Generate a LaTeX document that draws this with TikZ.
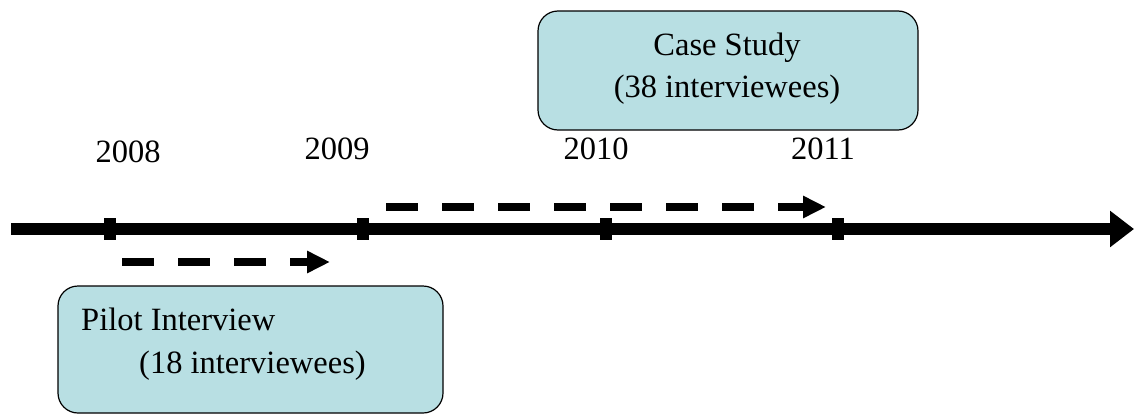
\documentclass[tikz,border=0pt]{standalone}
\usepackage{fontspec}
\setmainfont{Liberation Serif}
\usetikzlibrary{arrows.meta}
\definecolor{boxfill}{RGB}{184,223,227}
\begin{document}
\begin{tikzpicture}[x=1pt,y=-1pt,
  txt/.style={inner sep=0pt,anchor=base,font=\fontsize{32.5}{38}\selectfont},
  phasebox/.style={draw=black,line width=1.2pt,fill=boxfill,rounded corners=20pt,inner sep=0pt},
  tickmark/.style={fill=black,inner sep=0pt,minimum width=12pt,minimum height=22pt},
  axis/.style={line width=11.5pt,-{Triangle[length=24pt,width=35pt]}},
  period/.style={line width=8pt,dash pattern=on 32pt off 24pt,-{Triangle[length=23pt,width=21pt]}}]
\useasboundingbox (0,0) rectangle (1134,415);
% boxes
\node[phasebox,minimum width=380pt,minimum height=119pt] (casebox) at (728,70.5) {};
\node[phasebox,minimum width=385pt,minimum height=127pt] (pilotbox) at (250.5,349.5) {};
\node[txt] (case1) at (727,55) {Case Study};
\node[txt] (case2) at (727,97) {(38 interviewees)};
\node[txt,anchor=base west] (pilot1) at (81,330) {Pilot Interview};
\node[txt,anchor=base west] (pilot2) at (139,373) {(18 interviewees)};
% axis
\coordinate (axstart) at (11,229);
\coordinate (axend) at (1134,229);
\draw[axis] (axstart) -- (axend);
\node[tickmark] (t2008) at (110,229) {};
\node[tickmark] (t2009) at (363,229) {};
\node[tickmark] (t2010) at (606,229) {};
\node[tickmark] (t2011) at (838,229) {};
% years
\node[txt] (y2008) at (128,162) {2008};
\node[txt] (y2009) at (337,159) {2009};
\node[txt] (y2010) at (596,159) {2010};
\node[txt] (y2011) at (823,159) {2011};
% period arrows
\coordinate (p1s) at (122,262);
\coordinate (p1e) at (330,262);
\coordinate (p2s) at (386,207);
\coordinate (p2e) at (826,207);
\draw[period] (p1s) -- (p1e);
\draw[period] (p2s) -- (p2e);
\end{tikzpicture}
\end{document}
